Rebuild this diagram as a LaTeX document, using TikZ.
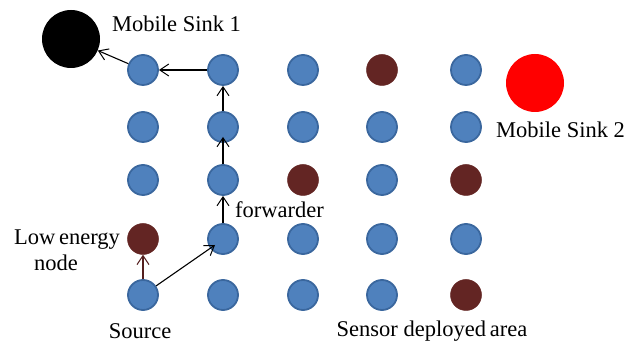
\documentclass[tikz,border=0pt]{standalone}
\usepackage{fontspec}
\setmainfont{Liberation Serif}
\usetikzlibrary{arrows.meta}
\definecolor{sblue}{HTML}{4F81BD}
\definecolor{sblueedge}{HTML}{3A679E}
\definecolor{sbrown}{HTML}{632523}
\tikzset{
  sensor/.style={circle, fill=sblue, draw=sblueedge, line width=1.8pt, minimum size=30pt, inner sep=0pt},
  weak/.style={circle, fill=sbrown, draw=sbrown, line width=0.5pt, minimum size=31pt, inner sep=0pt},
  sink/.style={circle, minimum size=58pt, inner sep=0pt},
  flow/.style={-{Straight Barb[length=9pt,width=12pt,line width=1pt]}, line width=1.1pt, black},
  lbl/.style={font=\fontsize{22.5}{26}\selectfont, inner sep=0pt},
}
\begin{document}
\begin{tikzpicture}[x=1pt, y=-1pt]
\useasboundingbox (0,0) rectangle (635,344);
% grid: columns 143,223,303,382,466 ; rows 70,127,180,239,295
\node[sensor] (a1) at (143,70) {};
\node[sensor] (b1) at (223,70) {};
\node[sensor] (c1) at (303,70) {};
\node[weak]   (d1) at (382,70) {};
\node[sensor] (e1) at (466,70) {};
\node[sensor] (a2) at (143,127) {};
\node[sensor] (b2) at (223,127) {};
\node[sensor] (c2) at (303,127) {};
\node[sensor] (d2) at (382,127) {};
\node[sensor] (e2) at (466,127) {};
\node[sensor] (a3) at (143,180) {};
\node[sensor] (b3) at (223,180) {};
\node[weak]   (c3) at (303,180) {};
\node[sensor] (d3) at (382,180) {};
\node[weak]   (e3) at (466,180) {};
\node[weak]   (a4) at (143,239) {};
\node[sensor] (b4) at (223,239) {};
\node[sensor] (c4) at (303,239) {};
\node[sensor] (d4) at (382,239) {};
\node[sensor] (e4) at (466,239) {};
\node[sensor] (a5) at (143,295) {};
\node[sensor] (b5) at (223,295) {};
\node[sensor] (c5) at (303,295) {};
\node[sensor] (d5) at (382,295) {};
\node[weak]   (e5) at (466,295) {};
% sinks
\node[sink, fill=black] (s1) at (71,39) {};
\node[sink, fill=red] (s2) at (535,83) {};
% labels
\node[lbl, anchor=west] (ls1) at (112,24) {Mobile Sink 1};
\node[lbl, anchor=west] (ls2) at (496,130) {Mobile Sink 2};
\node[lbl, anchor=west] (lfw) at (235,210) {forwarder};
\node[lbl] (lle) at (67,240) {Low\,energy};
\node[lbl] (lnd) at (56,263) {node};
\node[lbl] (lsrc) at (140,331) {Source};
\node[lbl] (lsda) at (432,331) {Sensor deployed\,area};
% route
\draw[flow] (a5) -- ([shift={(-8,6)}]b4.center);
\draw[flow] (b4) -- (b3);
\draw[flow] (b3) -- ([yshift=6]b2.south);
\draw[flow] (b2) -- (b1);
\draw[flow] (b1) -- (a1);
\draw[flow] (a1) -- (s1);
\draw[flow, draw=sbrown!85!black] (a5) -- (a4);
\end{tikzpicture}
\end{document}
